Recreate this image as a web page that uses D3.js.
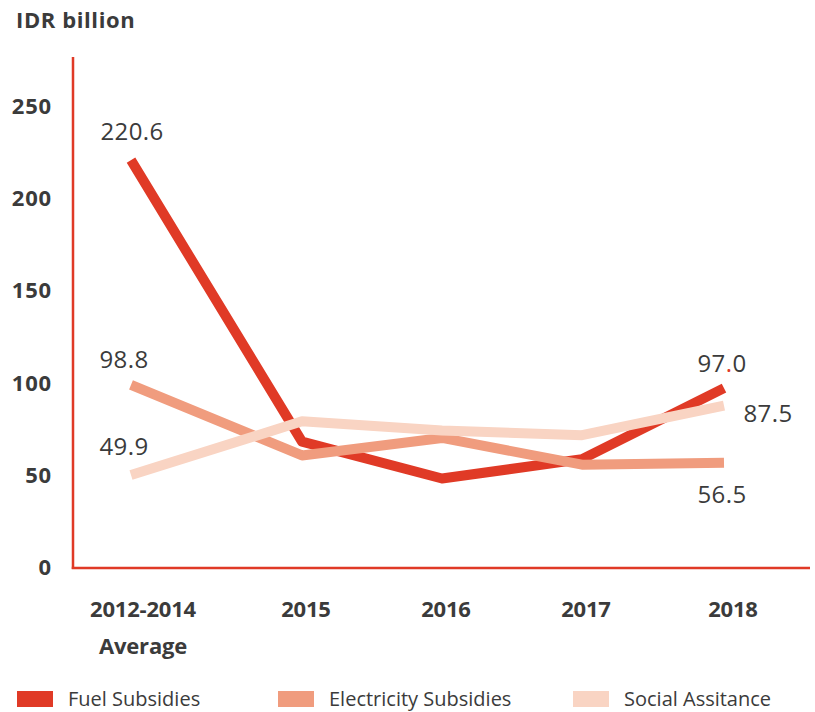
<!DOCTYPE html>
<html>
<head>
<meta charset="utf-8">
<script src="https://cdn.jsdelivr.net/npm/d3@7"></script>
<style>
  html, body { margin: 0; padding: 0; background: #ffffff; }
  svg { display: block; }
  text { font-family: "Open Sans", "Noto Sans", sans-serif; fill: #3b3b3b; }
</style>
</head>
<body>
<svg id="chart" width="815" height="712"></svg>
<script>
// Subsidy spending, IDR billion
const categories = ["2012-2014", "2015", "2016", "2017", "2018"];
const categorySubLabels = ["Average", "", "", "", ""];
const fuelSubsidies = [220.6, 68, 48, 58.5, 97.0];
const electricitySubsidies = [98.8, 60.5, 70, 55.5, 56.5];
const socialAssistance = [49.9, 79, 74, 71.5, 87.5];
const yTicks = [0, 50, 100, 150, 200, 250];
const seriesNames = ["Fuel Subsidies", "Electricity Subsidies", "Social Assitance"];
const seriesColors = ["#e03a26", "#f09c7e", "#f9d4c3"];

const series = [fuelSubsidies, electricitySubsidies, socialAssistance];

const svg = d3.select("#chart");
const axisColor = "#e03a26";

const plot = { left: 73, right: 810, top: 57, bottom: 568 };

// category positions along the time axis (first slot is a multi-year average, set wider apart)
const x = d3.scaleOrdinal()
  .domain(categories)
  .range([131, 302, 442, 582, 724]);

const y = d3.scaleLinear()
  .domain([0, 250])
  .range([567, 106]);

// unit title
svg.append("text")
  .attr("x", 16).attr("y", 28)
  .attr("font-size", 22).attr("font-weight", 700)
  .attr("letter-spacing", 0.6)
  .text("IDR billion");

// y tick labels
svg.append("g").selectAll("text")
  .data(yTicks)
  .join("text")
  .attr("x", 52)
  .attr("y", d => y(d) + 8)
  .attr("text-anchor", "end")
  .attr("font-size", 22).attr("font-weight", 700)
  .attr("letter-spacing", 0.8)
  .text(d => d);

// x category labels
const xl = svg.append("g");
categories.forEach((c, i) => {
  const cx = x(c) + (i === 0 ? 12 : i === categories.length - 1 ? 9 : 4);
  xl.append("text")
    .attr("x", cx).attr("y", 617)
    .attr("text-anchor", "middle")
    .attr("font-size", 22).attr("font-weight", 700)
    .attr("letter-spacing", -0.2)
    .text(c);
  if (categorySubLabels[i]) {
    xl.append("text")
      .attr("x", cx).attr("y", 654)
      .attr("text-anchor", "middle")
      .attr("font-size", 22).attr("font-weight", 700)
      .attr("letter-spacing", -0.2)
      .text(categorySubLabels[i]);
  }
});

// series lines
const line = d3.line()
  .x((d, i) => x(categories[i]))
  .y(d => y(d));

svg.append("g").selectAll("path")
  .data(series)
  .join("path")
  .attr("d", d => line(d))
  .attr("fill", "none")
  .attr("stroke", (d, i) => seriesColors[i])
  .attr("stroke-width", 10)
  .attr("stroke-linejoin", "round")
  .attr("stroke-linecap", "butt");

// axes (left and bottom rules)
svg.append("line")
  .attr("x1", plot.left).attr("x2", plot.left)
  .attr("y1", plot.top).attr("y2", plot.bottom + 1)
  .attr("stroke", axisColor).attr("stroke-width", 2.5);
svg.append("line")
  .attr("x1", plot.left - 1.25).attr("x2", plot.right)
  .attr("y1", plot.bottom).attr("y2", plot.bottom)
  .attr("stroke", axisColor).attr("stroke-width", 2.5);

// value labels at the first and last category
const fmt = d3.format(".1f");
const last = categories.length - 1;
const valueLabels = [
  { v: fuelSubsidies[0], cx: x(categories[0]) + 1, y: y(fuelSubsidies[0]) - 20, s: 0 },
  { v: electricitySubsidies[0], cx: x(categories[0]) - 7, y: y(electricitySubsidies[0]) - 17, s: 1 },
  { v: socialAssistance[0], cx: x(categories[0]) - 7, y: y(socialAssistance[0]) - 20, s: 2 },
  { v: fuelSubsidies[last], cx: x(categories[last]) - 2, y: y(fuelSubsidies[last]) - 16, s: 0, redPoint: true },
  { v: socialAssistance[last], cx: x(categories[last]) + 44, y: y(socialAssistance[last]) + 16, s: 2 },
  { v: electricitySubsidies[last], cx: x(categories[last]) - 2, y: y(electricitySubsidies[last]) + 40, s: 1 }
];

const vl = svg.append("g");
valueLabels.forEach(l => {
  const t = vl.append("text")
    .attr("x", l.cx).attr("y", l.y)
    .attr("text-anchor", "middle")
    .attr("font-size", 24)
    .attr("letter-spacing", 0.4);
  const s = fmt(l.v);
  if (l.redPoint) {
    const parts = s.split(".");
    t.append("tspan").text(parts[0]);
    t.append("tspan").attr("fill", axisColor).style("fill", axisColor).text(".");
    t.append("tspan").text(parts[1]);
  } else {
    t.text(s);
  }
});

// legend
const legendX = [17, 278, 573];
const lg = svg.append("g");
seriesNames.forEach((n, i) => {
  lg.append("rect")
    .attr("x", legendX[i]).attr("y", 691)
    .attr("width", 36).attr("height", 16)
    .attr("fill", seriesColors[i]);
  lg.append("text")
    .attr("x", legendX[i] + 51).attr("y", 706)
    .attr("font-size", 20)
    .attr("fill", "#3b3b3b")
    .text(n);
});
</script>
</body>
</html>
